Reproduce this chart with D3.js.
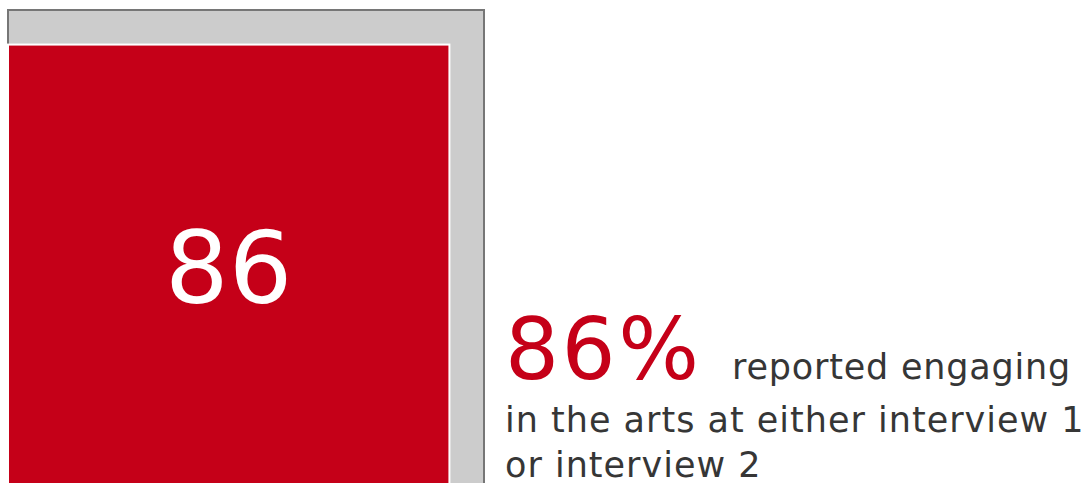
<!DOCTYPE html>
<html>
<head>
<meta charset="utf-8">
<script src="https://cdn.jsdelivr.net/npm/d3@7"></script>
<style>
  html, body { margin: 0; padding: 0; background: #ffffff; overflow: hidden; }
  svg { display: block; font-family: "DejaVu Sans", Verdana, sans-serif; }
</style>
</head>
<body>
<svg id="chart" width="1088" height="483"></svg>
<script>
// Share of respondents who engaged in the arts (percent)
const categories = ["Engaged in the arts", "All respondents"];
const values = [86, 100];
const valueLabels = ["86"];
const headline = ["86%"];
const captionLines = ["reported engaging", "in the arts at either interview 1", "or interview 2"];

const svg = d3.select("#chart");

// Area-proportional squares: side length follows the square root of the value
const boxLeft = 8, boxTop = 10, boxSide = 476;
const side = d3.scaleSqrt().domain([0, 100]).range([0, boxSide]);
const boxBottom = boxTop + side(values[1]);

// Whole population (100%) as the grey frame
svg.append("rect")
  .attr("x", boxLeft)
  .attr("y", boxTop)
  .attr("width", side(values[1]))
  .attr("height", side(values[1]))
  .attr("fill", "#cccccc")
  .attr("stroke", "#767676")
  .attr("stroke-width", 2);

// Engaged share as the red square, anchored at the bottom-left corner
const s = side(values[0]);
svg.append("rect")
  .attr("x", boxLeft)
  .attr("y", boxBottom - s)
  .attr("width", s)
  .attr("height", s)
  .attr("fill", "#c50018")
  .attr("stroke", "#ffffff")
  .attr("stroke-width", 2);

// Value inside the red square
svg.append("text")
  .attr("x", boxLeft + s / 2)
  .attr("y", boxBottom - s / 2 + 38)
  .attr("text-anchor", "middle")
  .attr("fill", "#ffffff")
  .attr("font-size", 100)
  .text(valueLabels[0]);

// Headline figure and caption
const textX = 505;
svg.append("text")
  .attr("x", textX)
  .attr("y", 379)
  .attr("fill", "#c50018")
  .attr("font-size", 85)
  .attr("letter-spacing", 2.5)
  .text(headline[0]);

svg.append("text")
  .attr("x", 732)
  .attr("y", 379)
  .attr("fill", "#363636")
  .attr("font-size", 35)
  .attr("letter-spacing", 0.8)
  .text(captionLines[0]);

svg.selectAll("text.cap")
  .data(captionLines.slice(1))
  .join("text")
  .attr("class", "cap")
  .attr("x", textX)
  .attr("y", (d, i) => 432 + i * 44.5)
  .attr("fill", "#363636")
  .attr("font-size", 35)
  .attr("letter-spacing", 1)
  .text(d => d);
</script>
</body>
</html>
